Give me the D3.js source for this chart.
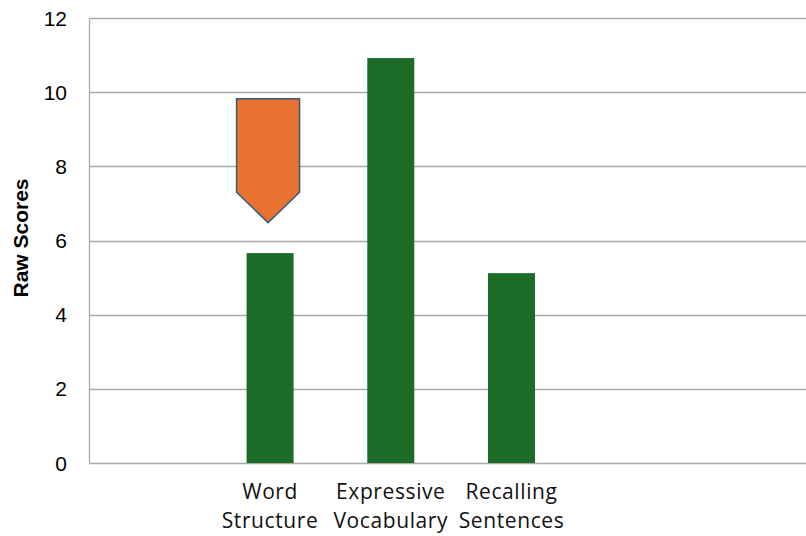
<!DOCTYPE html>
<html>
<head>
<meta charset="utf-8">
<script src="https://cdn.jsdelivr.net/npm/d3@7"></script>
<style>
  html, body { margin: 0; padding: 0; background: #fff; }
  svg { display: block; }
</style>
</head>
<body>
<svg id="chart" width="806" height="536"></svg>
<script>
// Category slots along the x axis (blank slots keep the spacing of the layout)
const slots = ["s0", "s1", "s2", "s3", "s4", "s5", "s6"];
const slotLabels = [[], ["Word", "Structure"], ["Expressive", "Vocabulary"], ["Recalling", "Sentences"], [], [], []];

// Raw scores per subtest
const barSlots = ["s1", "s2", "s3"];
const barValues = [5.66, 10.92, 5.12];

// Downward arrow marker on Word Structure: top, shoulder and tip values
const arrowSlot = "s1";
const arrowTop = 9.82;
const arrowShoulder = 7.30;
const arrowTip = 6.48;

const yTicks = [0, 2, 4, 6, 8, 10, 12];

const svg = d3.select("#chart");
const W = 806, H = 536;
const margin = { left: 89, top: 18, bottom: 73 };
const plotRight = 934;

const x = d3.scaleBand().domain(slots).range([margin.left, plotRight]).paddingInner(0).paddingOuter(0);
const y = d3.scaleLinear().domain([0, 12]).range([H - margin.bottom, margin.top]);

const barW = 47;
const arrowW = 63;

// Horizontal gridlines
svg.append("g")
  .selectAll("line")
  .data(yTicks)
  .join("line")
  .attr("x1", margin.left)
  .attr("x2", W)
  .attr("y1", d => Math.round(y(d)) + 0.5)
  .attr("y2", d => Math.round(y(d)) + 0.5)
  .attr("stroke", "#a9a9a9")
  .attr("stroke-width", 1.3);

// Left axis line
svg.append("line")
  .attr("x1", margin.left + 0.5).attr("x2", margin.left + 0.5)
  .attr("y1", y(12)).attr("y2", y(0))
  .attr("stroke", "#a9a9a9").attr("stroke-width", 1.3);

// Y tick labels
svg.append("g")
  .selectAll("text")
  .data(yTicks)
  .join("text")
  .attr("x", 67)
  .attr("y", d => y(d))
  .attr("dy", "0.36em")
  .attr("text-anchor", "end")
  .attr("font-family", "Liberation Sans, Arial, sans-serif")
  .attr("font-size", 21)
  .attr("fill", "#000")
  .text(d => d);

// Y axis title
svg.append("text")
  .attr("transform", "translate(28, 238) rotate(-90)")
  .attr("text-anchor", "middle")
  .attr("font-family", "Liberation Sans, Arial, sans-serif")
  .attr("font-weight", "bold")
  .attr("font-size", 21)
  .attr("fill", "#000")
  .text("Raw Scores");

// Bars
svg.append("g")
  .selectAll("rect")
  .data(barValues)
  .join("rect")
  .attr("x", (d, i) => x(barSlots[i]) + x.bandwidth() / 2 - barW / 2)
  .attr("y", d => y(d))
  .attr("width", barW)
  .attr("height", d => y(0) - y(d))
  .attr("fill", "#1c6b27");

// Arrow marker
const ax = x(arrowSlot) + x.bandwidth() / 2 - 2;
const arrowPath = d3.path();
arrowPath.moveTo(ax - arrowW / 2, y(arrowTop));
arrowPath.lineTo(ax + arrowW / 2, y(arrowTop));
arrowPath.lineTo(ax + arrowW / 2, y(arrowShoulder));
arrowPath.lineTo(ax, y(arrowTip));
arrowPath.lineTo(ax - arrowW / 2, y(arrowShoulder));
arrowPath.closePath();
svg.append("path")
  .attr("d", arrowPath.toString())
  .attr("fill", "#e97132")
  .attr("stroke", "#2f5d7c")
  .attr("stroke-width", 1.5)
  .attr("stroke-linejoin", "miter");

// Category labels
const labelG = svg.append("g");
slots.forEach((s, i) => {
  slotLabels[i].forEach((line, j) => {
    labelG.append("text")
      .attr("x", x(s) + x.bandwidth() / 2)
      .attr("y", 499 + j * 29)
      .attr("text-anchor", "middle")
      .attr("font-family", "Open Sans, sans-serif")
      .attr("font-size", 21)
      .attr("letter-spacing", 0.6)
      .attr("fill", "#111")
      .text(line);
  });
});
</script>
</body>
</html>
